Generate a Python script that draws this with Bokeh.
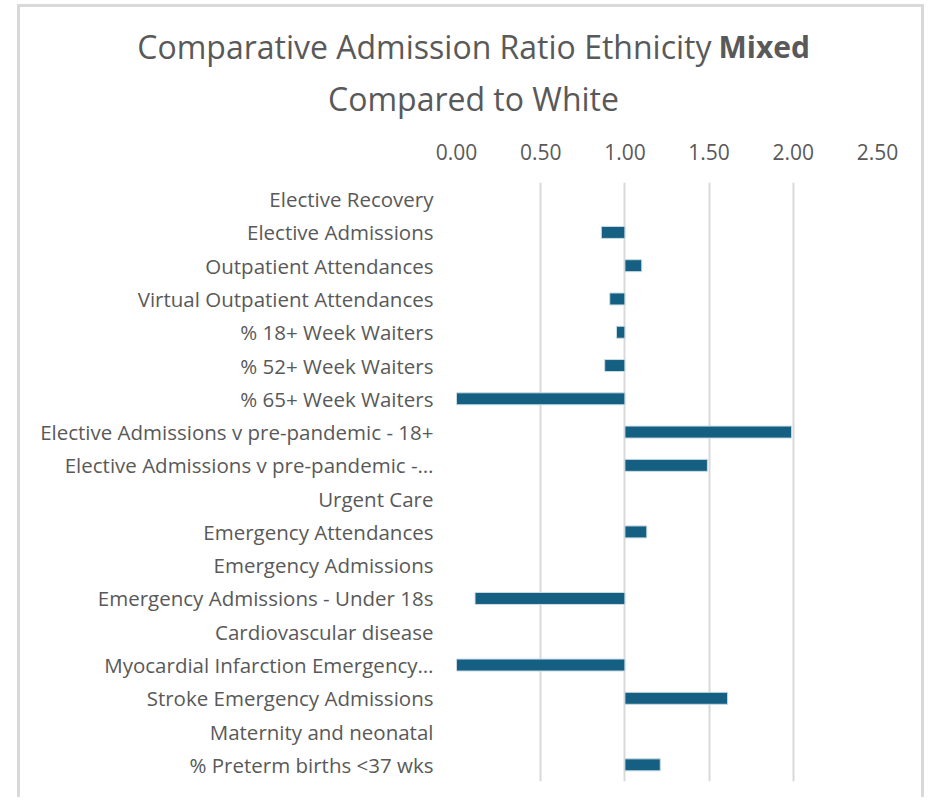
import math
from bokeh.plotting import figure
from bokeh.models import (FactorRange, Range1d, FixedTicker, NumeralTickFormatter,
                          ColumnDataSource)
from bokeh.core.properties import value
from bokeh.embed import file_html
from bokeh.resources import INLINE

categories = [
    "Elective Recovery",
    "Elective Admissions",
    "Outpatient Attendances",
    "Virtual Outpatient Attendances",
    "% 18+ Week Waiters",
    "% 52+ Week Waiters",
    "% 65+ Week Waiters",
    "Elective Admissions v pre-pandemic - 18+",
    "Elective Admissions v pre-pandemic -\u2026",
    "Urgent Care",
    "Emergency Attendances",
    "Emergency Admissions",
    "Emergency Admissions - Under 18s",
    "Cardiovascular disease",
    "Myocardial Infarction Emergency\u2026",
    "Stroke Emergency Admissions",
    "Maternity and neonatal",
    "% Preterm births <37 wks",
]
ratios = [float("nan"), 0.86, 1.10, 0.91, 0.95, 0.88, 0.00, 1.99, 1.49,
          float("nan"), 1.13, float("nan"), 0.11, float("nan"), 0.00, 1.61,
          float("nan"), 1.21]
baseline = 1.0
x_ticks = [0.0, 0.5, 1.0, 1.5, 2.0, 2.5]
title_main = "Comparative Admission Ratio Ethnicity"
title_bold = "Mixed"
title_line2 = "Compared to White"

FONT = "Open Sans"
TXT = "#595959"
BAR = "#156082"
FRAME = "#d9d9d9"

# content box starts at page (20, 7) inside the chart border
OX, OY = 20, 7
W = 907
TITLE_H = 135 - 4
MAIN_H = 797 - 135
border = "3px solid " + FRAME

# ---- title area (pixel-like coordinates, y from top) ----
t = figure(width=W, height=TITLE_H, output_backend="svg", toolbar_location=None,
           x_range=Range1d(0, W), y_range=Range1d(TITLE_H, 0),
           x_axis_type=None, y_axis_type=None, min_border=0,
           styles={"margin-left": "17px", "margin-top": "4px",
                   "border-left": border, "border-top": border,
                   "border-right": border})
t.outline_line_color = None
t.grid.visible = False
t.background_fill_color = "white"
t.border_fill_color = "white"
t.text(x=[711 - OX], y=[46 - OY], text=[title_main], text_align="right",
       text_baseline="alphabetic", text_font=value(FONT), text_font_size="32px",
       text_color=TXT)
t.text(x=[718 - OX], y=[46 - OY], text=[title_bold], text_align="left",
       text_baseline="alphabetic", text_font=value(FONT), text_font_size="30px",
       text_color=TXT, text_font_style="bold")
t.text(x=[473 - OX], y=[98 - OY], text=[title_line2], text_align="center",
       text_baseline="alphabetic", text_font=value(FONT), text_font_size="32px",
       text_color=TXT)

# ---- main bar chart ----
cats, lefts, rights = [], [], []
for c, v in zip(categories, ratios):
    if v is None or math.isnan(v):
        continue
    cats.append(c)
    lefts.append(min(baseline, v))
    rights.append(max(baseline, v))
src = ColumnDataSource(dict(y=cats, left=lefts, right=rights))

p = figure(width=W, height=MAIN_H, output_backend="svg", toolbar_location=None,
           y_range=FactorRange(factors=list(reversed(categories)), range_padding=0),
           x_range=Range1d(0, 2.5), x_axis_location="above",
           min_border_left=456 - OX, min_border_right=(OX + W) - 877,
           min_border_top=182 - 135, min_border_bottom=797 - 781,
           styles={"margin-left": "17px",
                   "border-left": border, "border-right": border})
p.hbar(y="y", left="left", right="right", height=0.36, source=src,
       fill_color=BAR, line_color="#c9dbe5", line_width=1)

p.outline_line_color = None
p.background_fill_color = "white"
p.border_fill_color = "white"

xa = p.xaxis[0]
xa.ticker = FixedTicker(ticks=x_ticks)
xa.formatter = NumeralTickFormatter(format="0.00")
xa.axis_line_color = None
xa.major_tick_line_color = None
xa.minor_tick_line_color = None
xa.major_tick_out = 0
xa.major_label_text_font = FONT
xa.major_label_text_font_size = "21px"
xa.major_label_text_color = TXT
xa.major_label_standoff = 23

ya = p.yaxis[0]
ya.axis_line_color = None
ya.major_tick_line_color = None
ya.minor_tick_line_color = None
ya.major_tick_out = 0
ya.major_label_text_font = FONT
ya.major_label_text_font_size = "20.5px"
ya.major_label_text_color = TXT
ya.major_label_standoff = 23

p.xgrid.ticker = FixedTicker(ticks=x_ticks)
p.xgrid.grid_line_color = FRAME
p.xgrid.grid_line_width = 2
p.ygrid.grid_line_color = None

open("out.html", "w").write(file_html([t, p], INLINE))
